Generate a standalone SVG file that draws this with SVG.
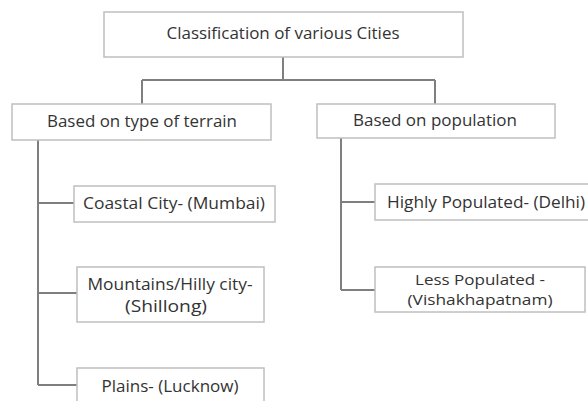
<svg xmlns="http://www.w3.org/2000/svg" width="588" height="401" viewBox="0 0 588 401">
<style>
.box{fill:#fff;stroke:#bfbfbf;stroke-width:1.5}
.t{font-family:"Open Sans","Liberation Sans",sans-serif;font-size:16px;fill:#333;text-anchor:middle}
.s{font-size:15px}
.c{fill:none;stroke:#7f7f7f;stroke-width:2}
</style>
<rect width="588" height="401" fill="#fff"/>
<g id="connectors">
<path class="c" d="M283 57V80M142 80H435M142 80V104M435 80V104"/>
<path class="c" d="M38 140V385M38 203H74M38 293H77M38 385H77"/>
<path class="c" d="M341 138V290M341 202H375M341 290H375"/>
</g>
<g id="root"><rect class="box" x="104" y="12" width="359" height="45"/><text class="t" x="283" y="39" textLength="233" lengthAdjust="spacingAndGlyphs">Classification of various Cities</text></g>
<g id="terrain"><rect class="box" x="12" y="104" width="259" height="36"/><text class="t" x="142" y="127" textLength="190" lengthAdjust="spacingAndGlyphs">Based on type of terrain</text></g>
<g id="population"><rect class="box" x="317" y="104" width="238" height="34"/><text class="t" x="435" y="126" textLength="164" lengthAdjust="spacingAndGlyphs">Based on population</text></g>
<g id="coastal"><rect class="box" x="74" y="186" width="201" height="36"/><text class="t" x="174" y="209" textLength="182" lengthAdjust="spacingAndGlyphs">Coastal City- (Mumbai)</text></g>
<g id="mountains"><rect class="box" x="77" y="267" width="187" height="55"/><text class="t" x="170" y="290" textLength="165" lengthAdjust="spacingAndGlyphs">Mountains/Hilly city-</text><text class="t" x="166" y="312" textLength="82" lengthAdjust="spacingAndGlyphs">(Shillong)</text></g>
<g id="plains"><rect class="box" x="77" y="368" width="187" height="45"/><text class="t" x="170" y="392" textLength="137" lengthAdjust="spacingAndGlyphs">Plains- (Lucknow)</text></g>
<g id="highly"><rect class="box" x="375" y="184" width="215" height="36"/><text class="t" x="486" y="208" textLength="198" lengthAdjust="spacingAndGlyphs">Highly Populated- (Delhi)</text></g>
<g id="less"><rect class="box" x="375" y="267" width="210" height="45"/><text class="t s" x="480" y="285" textLength="130" lengthAdjust="spacingAndGlyphs">Less Populated -</text><text class="t s" x="480" y="305" textLength="145" lengthAdjust="spacingAndGlyphs">(Vishakhapatnam)</text></g>
</svg>
